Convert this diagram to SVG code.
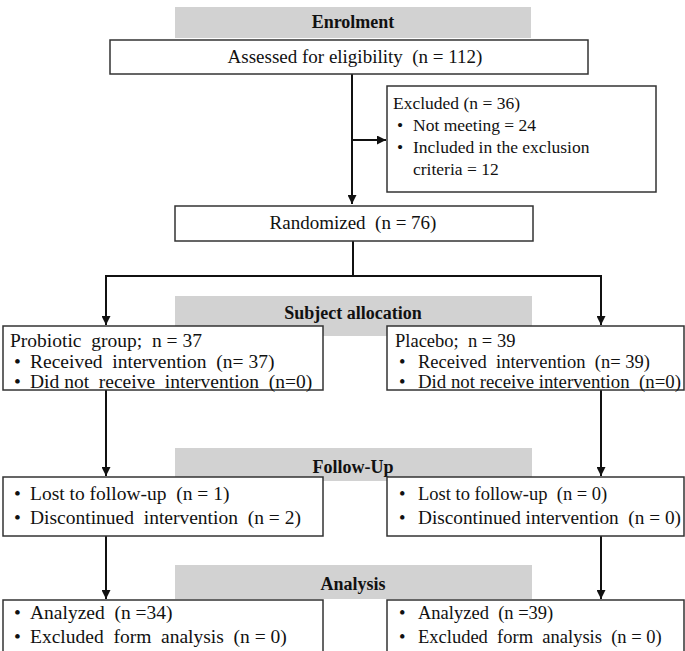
<svg xmlns="http://www.w3.org/2000/svg" width="685" height="651" viewBox="0 0 685 651">
<defs>
<marker id="ah" viewBox="0 0 10 10" refX="10" refY="5" markerWidth="4.5" markerHeight="4.5" orient="auto" markerUnits="strokeWidth"><path d="M0,0 L10,5 L0,10 z" fill="#111"/></marker>
</defs>
<style>
text{font-family:'Liberation Serif','DejaVu Serif',serif;font-size:19.5px;fill:#111;white-space:pre}
.b{font-weight:bold;font-size:18px}
.s{font-size:17.5px}
.m{font-size:19px}
.r{font-size:18.5px}
.bar{fill:#d2d2d2}
.box{fill:#fff;stroke:#333;stroke-width:1.5}
.c{fill:none;stroke:#111;stroke-width:2}
</style>
<rect width="685" height="651" fill="#fff"/>
<g font-family="Liberation Serif, DejaVu Serif, serif">
<g id="bar-enrolment"><rect class="bar" x="175" y="7" width="356" height="31"/><text class="b" x="353" y="28" text-anchor="middle">Enrolment</text></g>
<g id="bar-allocation"><rect class="bar" x="175" y="296" width="357" height="40"/><text class="b" x="353" y="319" text-anchor="middle">Subject allocation</text></g>
<g id="bar-followup"><rect class="bar" x="175" y="448" width="357" height="33"/><text class="b" x="353" y="473" text-anchor="middle">Follow-Up</text></g>
<g id="bar-analysis"><rect class="bar" x="175" y="565" width="357" height="34"/><text class="b" x="353" y="590" text-anchor="middle">Analysis</text></g>
<g id="connectors">
<path class="c" d="M352,74 V204" marker-end="url(#ah)"/>
<path class="c" d="M352,140 H386" marker-end="url(#ah)"/>
<path class="c" d="M353,241 V276 M106,276 H601"/>
<path class="c" d="M106,275 V325" marker-end="url(#ah)"/>
<path class="c" d="M601,275 V325" marker-end="url(#ah)"/>
<path class="c" d="M106,390 V476" marker-end="url(#ah)"/>
<path class="c" d="M601,390 V476" marker-end="url(#ah)"/>
<path class="c" d="M106,536 V599" marker-end="url(#ah)"/>
<path class="c" d="M601,536 V599" marker-end="url(#ah)"/>
</g>
<g id="assessed"><rect class="box" x="110" y="40" width="478" height="34"/><text class="m" x="355" y="63" text-anchor="middle">Assessed for eligibility  (n = 112)</text></g>
<g id="excluded"><rect class="box" x="387" y="86" width="269" height="106"/>
<text class="s" x="393" y="109">Excluded (n = 36)</text>
<text class="s" x="397" y="131">•</text><text class="s" x="413" y="131">Not meeting = 24</text>
<text class="s" x="397" y="153">•</text><text class="s" x="413" y="153">Included in the exclusion</text>
<text class="s" x="413" y="175">criteria = 12</text></g>
<g id="randomized"><rect class="box" x="175" y="206" width="358" height="35"/><text class="m" x="353" y="229" text-anchor="middle">Randomized  (n = 76)</text></g>
<g id="probiotic"><rect class="box" x="3" y="326" width="320" height="64"/>
<text x="10" y="347">Probiotic  group;  n = 37</text>
<text x="14" y="368">•</text><text x="30" y="368">Received  intervention  (n= 37)</text>
<text x="14" y="388">•</text><text x="30" y="388">Did not  receive  intervention  (n=0)</text></g>
<g id="placebo"><rect class="box" x="387" y="326" width="297" height="64"/>
<text class="r" x="395" y="347">Placebo;  n = 39</text>
<text class="r" x="399" y="368">•</text><text class="r" x="418" y="368">Received  intervention  (n= 39)</text>
<text class="r" x="399" y="388">•</text><text class="r" x="418" y="388" textLength="263" lengthAdjust="spacingAndGlyphs">Did not receive intervention  (n=0)</text></g>
<g id="followup-probiotic"><rect class="box" x="3" y="477" width="320" height="59"/>
<text x="14" y="500">•</text><text x="30" y="500">Lost to follow-up  (n = 1)</text>
<text x="14" y="524">•</text><text x="30" y="524">Discontinued  intervention  (n = 2)</text></g>
<g id="followup-placebo"><rect class="box" x="387" y="477" width="297" height="59"/>
<text class="r" x="399" y="500">•</text><text class="r" x="418" y="500">Lost to follow-up  (n = 0)</text>
<text class="r" x="399" y="524">•</text><text class="r" x="418" y="524" textLength="263" lengthAdjust="spacingAndGlyphs">Discontinued intervention  (n = 0)</text></g>
<g id="analysis-probiotic"><rect class="box" x="3" y="600" width="320" height="60"/>
<text x="14" y="619">•</text><text x="30" y="619">Analyzed  (n =34)</text>
<text x="14" y="643">•</text><text x="30" y="643">Excluded  form  analysis  (n = 0)</text></g>
<g id="analysis-placebo"><rect class="box" x="387" y="600" width="297" height="60"/>
<text class="r" x="399" y="619">•</text><text class="r" x="418" y="619">Analyzed  (n =39)</text>
<text class="r" x="399" y="643">•</text><text class="r" x="418" y="643">Excluded  form  analysis  (n = 0)</text></g>
</g>
</svg>
